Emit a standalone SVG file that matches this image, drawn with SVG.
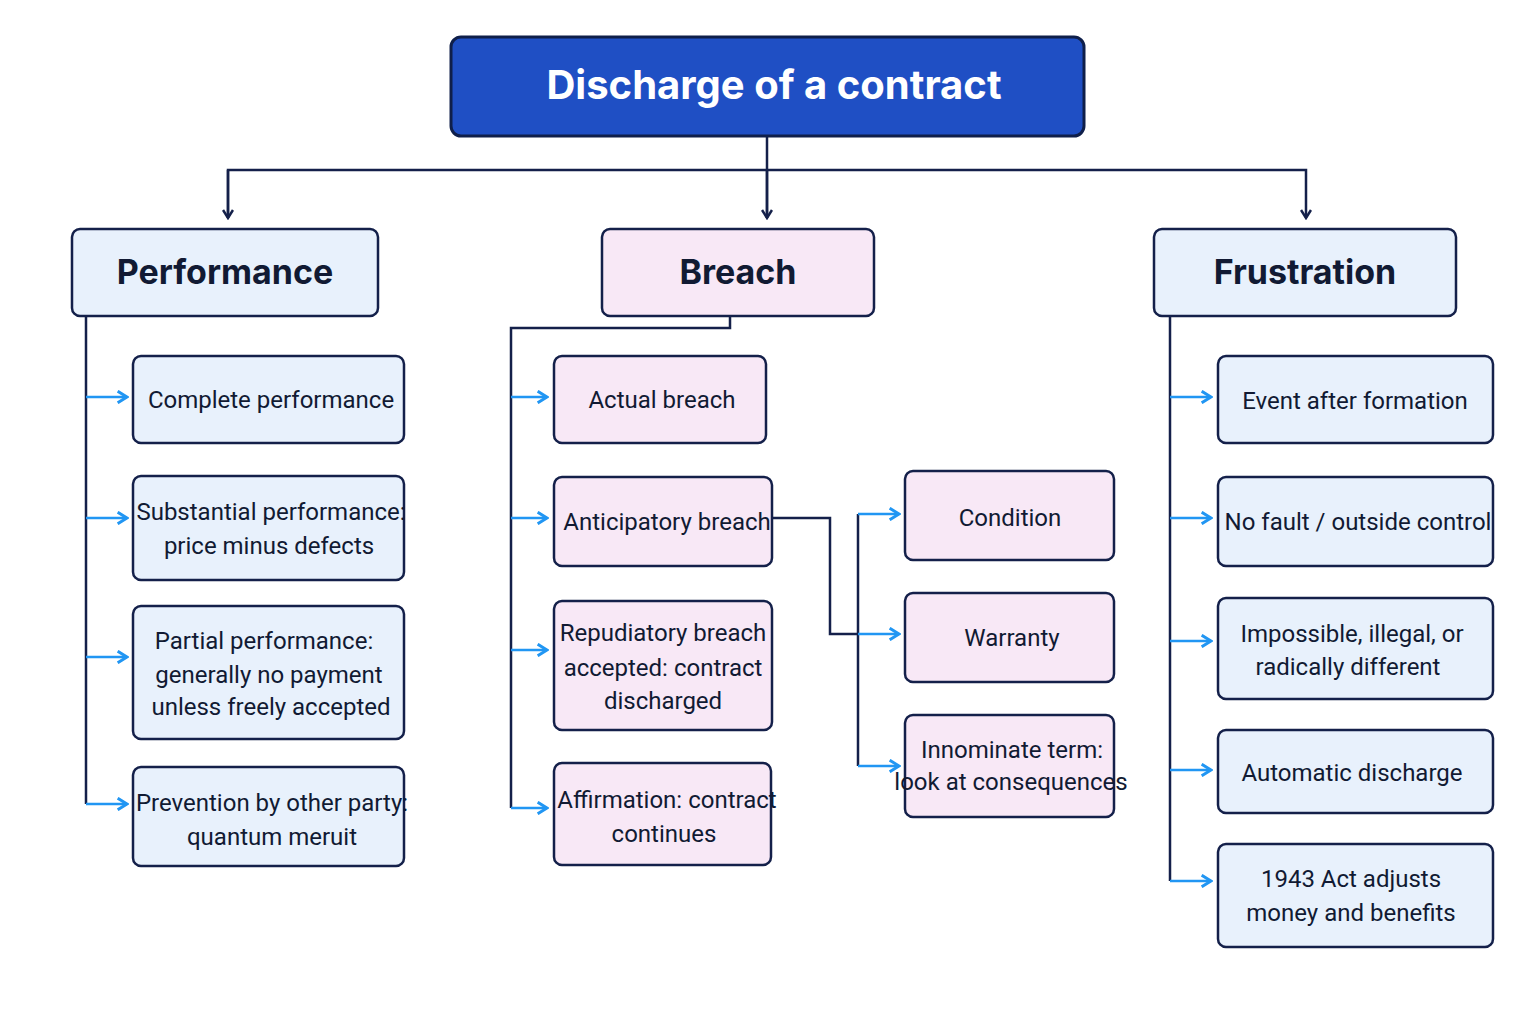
<svg xmlns="http://www.w3.org/2000/svg" width="1536" height="1024" viewBox="0 0 1536 1024">
<defs>
<style>
.n{stroke:#14204a;stroke-width:2.5}
.p{fill:#e8f1fc}.b{fill:#f8e8f6}
.h{font-family:"Inter","Liberation Sans",sans-serif;font-weight:700;font-size:34px;fill:#111a33;text-anchor:middle}
.t{font-family:"Roboto","Liberation Sans",sans-serif;font-size:24px;fill:#111a33;text-anchor:middle}
.d{fill:none;stroke:#14204a;stroke-width:2.5}
.a{fill:none;stroke:#2196f3;stroke-width:2.5}
</style>
<marker id="md" viewBox="0 0 12 12" refX="10" refY="6" markerWidth="12" markerHeight="12" markerUnits="userSpaceOnUse" orient="auto"><path d="M2,1 L10,6 L2,11" fill="none" stroke="#14204a" stroke-width="2.5"/></marker>
<marker id="mb" viewBox="0 0 12 12" refX="10" refY="6" markerWidth="14" markerHeight="14" markerUnits="userSpaceOnUse" orient="auto"><path d="M2,1 L10,6 L2,11" fill="none" stroke="#2196f3" stroke-width="2.5"/></marker>
</defs>
<rect width="1536" height="1024" fill="#fff"/>
<g id="connectors">
<path class="d" d="M767,136 V218 M228,218 V170 H1306 V218" marker-end="url(#md)"/>
<path class="d" d="M228,170 V218" marker-end="url(#md)"/>
<path class="d" d="M767,170 V218" marker-end="url(#md)"/>
<path class="d" d="M86,316 V804 M730,316 V328 H511 V808 M772,518 H830 V634 H858 M858,514 V766 M1170,316 V881"/>
<g class="a">
<path d="M86,397 H127" marker-end="url(#mb)"/><path d="M86,518 H127" marker-end="url(#mb)"/><path d="M86,657 H127" marker-end="url(#mb)"/><path d="M86,804 H127" marker-end="url(#mb)"/>
<path d="M511,397 H547" marker-end="url(#mb)"/><path d="M511,518 H547" marker-end="url(#mb)"/><path d="M511,650 H547" marker-end="url(#mb)"/><path d="M511,808 H547" marker-end="url(#mb)"/>
<path d="M858,514 H899" marker-end="url(#mb)"/><path d="M858,634 H899" marker-end="url(#mb)"/><path d="M858,766 H899" marker-end="url(#mb)"/>
<path d="M1170,397 H1211" marker-end="url(#mb)"/><path d="M1170,518 H1211" marker-end="url(#mb)"/><path d="M1170,641 H1211" marker-end="url(#mb)"/><path d="M1170,770 H1211" marker-end="url(#mb)"/><path d="M1170,881 H1211" marker-end="url(#mb)"/>
</g>
</g>
<g id="title"><rect x="451" y="37" width="633" height="99" rx="10" fill="#1f4fc4" stroke="#0f1f4a" stroke-width="3"/><text x="774" y="99" font-family="Inter,'Liberation Sans',sans-serif" font-weight="700" font-size="40" fill="#fff" text-anchor="middle">Discharge of a contract</text></g>
<g id="performance"><rect class="n p" x="72" y="229" width="306" height="87" rx="8"/><text class="h" x="225" y="284">Performance</text></g>
<g id="breach"><rect class="n b" x="602" y="229" width="272" height="87" rx="8"/><text class="h" x="738" y="284">Breach</text></g>
<g id="frustration"><rect class="n p" x="1154" y="229" width="302" height="87" rx="8"/><text class="h" x="1305" y="284">Frustration</text></g>

<g id="p1"><rect class="n p" x="133" y="356" width="271" height="87" rx="8"/><text class="t" x="271" y="408">Complete performance</text></g>
<g id="p2"><rect class="n p" x="133" y="476" width="271" height="104" rx="8"/><text class="t" x="271" y="520">Substantial performance:</text><text class="t" x="269" y="554">price minus defects</text></g>
<g id="p3"><rect class="n p" x="133" y="606" width="271" height="133" rx="8"/><text class="t" x="264" y="649">Partial performance:</text><text class="t" x="269" y="683">generally no payment</text><text class="t" x="271" y="715">unless freely accepted</text></g>
<g id="p4"><rect class="n p" x="133" y="767" width="271" height="99" rx="8"/><text class="t" x="272" y="811">Prevention by other party:</text><text class="t" x="272" y="845">quantum meruit</text></g>

<g id="b1"><rect class="n b" x="554" y="356" width="212" height="87" rx="8"/><text class="t" x="662" y="408">Actual breach</text></g>
<g id="b2"><rect class="n b" x="554" y="477" width="218" height="89" rx="8"/><text class="t" x="667" y="530">Anticipatory breach</text></g>
<g id="b3"><rect class="n b" x="554" y="601" width="218" height="129" rx="8"/><text class="t" x="663" y="641">Repudiatory breach</text><text class="t" x="663" y="676">accepted: contract</text><text class="t" x="663" y="709">discharged</text></g>
<g id="b4"><rect class="n b" x="554" y="763" width="217" height="102" rx="8"/><text class="t" x="667" y="808">Affirmation: contract</text><text class="t" x="664" y="842">continues</text></g>

<g id="c1"><rect class="n b" x="905" y="471" width="209" height="89" rx="8"/><text class="t" x="1010" y="526">Condition</text></g>
<g id="c2"><rect class="n b" x="905" y="593" width="209" height="89" rx="8"/><text class="t" x="1012" y="646">Warranty</text></g>
<g id="c3"><rect class="n b" x="905" y="715" width="209" height="102" rx="8"/><text class="t" x="1012" y="758">Innominate term:</text><text class="t" x="1011" y="790" font-size="22">look at consequences</text></g>

<g id="f1"><rect class="n p" x="1218" y="356" width="275" height="87" rx="8"/><text class="t" x="1355" y="409">Event after formation</text></g>
<g id="f2"><rect class="n p" x="1218" y="477" width="275" height="89" rx="8"/><text class="t" x="1358" y="530">No fault / outside control</text></g>
<g id="f3"><rect class="n p" x="1218" y="598" width="275" height="101" rx="8"/><text class="t" x="1352" y="642">Impossible, illegal, or</text><text class="t" x="1348" y="675">radically different</text></g>
<g id="f4"><rect class="n p" x="1218" y="730" width="275" height="83" rx="8"/><text class="t" x="1352" y="781">Automatic discharge</text></g>
<g id="f5"><rect class="n p" x="1218" y="844" width="275" height="103" rx="8"/><text class="t" x="1351" y="887">1943 Act adjusts</text><text class="t" x="1351" y="921">money and benefits</text></g>
</svg>
